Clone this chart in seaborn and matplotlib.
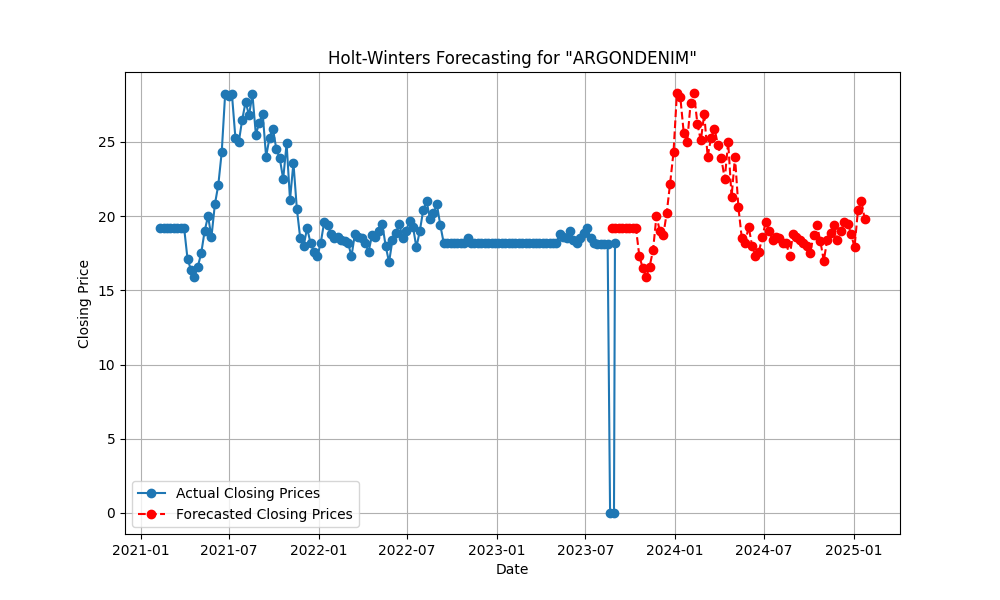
import matplotlib
matplotlib.use('Agg')
import matplotlib.pyplot as plt
import seaborn as sns
import pandas as pd

# weekly closing prices
actual_start = "2021-02-10"
actual_values = [
    19.2, 19.2, 19.2, 19.2, 19.2, 19.2, 19.2, 19.2,
    17.1, 16.4, 15.9, 16.6, 17.5, 19.0, 20.0, 18.6, 20.8, 22.1,
    24.3, 28.2, 28.1, 28.2, 25.3, 25.0, 26.5, 27.7, 26.8, 28.2,
    25.5, 26.3, 26.9, 24.0, 25.3, 25.9, 24.5, 23.9, 22.5, 24.9,
    21.1, 23.6, 20.5, 18.5, 18.0, 19.2, 18.2, 17.6, 17.3, 18.2, 19.6,
    19.4, 18.8, 18.5, 18.6, 18.4, 18.3, 18.2, 17.3, 18.8, 18.6,
    18.5, 18.2, 17.6, 18.7, 18.6, 19.0, 19.5, 18.0, 16.9, 18.4,
    18.9, 19.5, 18.5, 19.0, 19.7, 19.3, 17.9, 19.0, 20.4, 21.0,
    19.8, 20.2, 20.8, 19.4, 18.2,
    18.2, 18.2, 18.2, 18.2, 18.2, 18.2, 18.5,
    18.2, 18.2, 18.2, 18.2, 18.2, 18.2, 18.2, 18.2, 18.2, 18.2,
    18.2, 18.2, 18.2, 18.2, 18.2, 18.2, 18.2, 18.2, 18.2, 18.2,
    18.2, 18.2, 18.2, 18.2, 18.2, 18.2,
    18.8, 18.6, 18.5, 19.0, 18.4, 18.2, 18.5, 18.9, 19.2, 18.5,
    18.2, 18.1, 18.1, 18.1, 18.1,
]
tail_dates = ["2023-08-21", "2023-08-29", "2023-08-31"]
tail_values = [0.0, 0.0, 18.2]

forecast_start = "2023-08-25"
forecast_values = [
    19.2, 19.2, 19.2, 19.2, 19.2, 19.2, 19.2, 19.2,
    17.3, 16.5, 15.9, 16.6, 17.7, 20.0, 19.0, 18.7, 20.2, 22.2,
    24.3, 28.3, 28.0, 25.6, 25.0, 27.6, 28.3, 26.2, 25.1, 26.9,
    24.0, 25.3, 25.9, 24.8, 23.9, 22.5, 25.0, 21.3, 24.0, 20.6,
    18.5, 18.2, 19.3, 18.0, 17.3, 17.6, 18.6, 19.6, 19.0, 18.4,
    18.6, 18.5, 18.2, 18.2, 17.3, 18.8, 18.6, 18.4, 18.2, 18.0,
    17.5, 18.7, 19.4, 18.3, 17.0, 18.4, 18.9, 19.4, 18.4, 19.0,
    19.6, 19.5, 18.8, 17.9, 20.4, 21.0, 19.8,
]

actual_dates = list(pd.date_range(actual_start, periods=len(actual_values), freq="7D"))
actual_dates += list(pd.to_datetime(tail_dates))
actual = pd.DataFrame({"Date": actual_dates, "Close": actual_values + tail_values})

forecast = pd.DataFrame({
    "Date": pd.date_range(forecast_start, periods=len(forecast_values), freq="7D"),
    "Close": forecast_values,
})

fig, ax = plt.subplots(figsize=(10, 6), dpi=100)

sns.lineplot(data=actual, x="Date", y="Close", ax=ax, color="#1f77b4",
             marker="o", markersize=6, markeredgecolor="#1f77b4",
             markeredgewidth=1, errorbar=None, label="Actual Closing Prices")
sns.lineplot(data=forecast, x="Date", y="Close", ax=ax, color="red",
             linestyle="--", marker="o", markersize=6, markeredgecolor="red",
             markeredgewidth=1, errorbar=None, label="Forecasted Closing Prices")

ax.set_title('Holt-Winters Forecasting for "ARGONDENIM"')
ax.set_xlabel("Date")
ax.set_ylabel("Closing Price")
ax.grid(True)
ax.legend(loc="lower left")

plt.savefig("out.png", dpi=100)
